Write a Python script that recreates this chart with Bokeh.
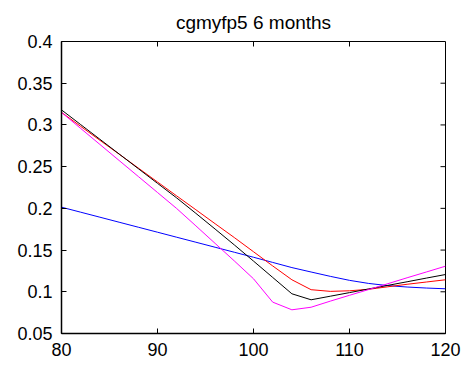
from bokeh.plotting import figure
from bokeh.models import LinearAxis, FixedTicker, Range1d, Title
from bokeh.embed import file_html
from bokeh.resources import INLINE

strike = [80, 82, 84, 86, 88, 90, 92, 94, 96, 98, 100, 102, 104, 106, 108, 110, 112, 114, 116, 118, 120]

black_vals = [0.318, 0.3004, 0.2828, 0.2652, 0.2476, 0.2300, 0.2125, 0.1940, 0.1752, 0.1562, 0.1368,
              0.1172, 0.0976, 0.0904, 0.0947, 0.0990, 0.1034, 0.1077, 0.1120, 0.1164, 0.1207]
red_vals = [0.315, 0.2983, 0.2816, 0.2650, 0.2483, 0.2316, 0.2149, 0.1983, 0.1816, 0.1650, 0.1480,
            0.1310, 0.1144, 0.1025, 0.1005, 0.1012, 0.1030, 0.1060, 0.1090, 0.1117, 0.1144]
blue_vals = [0.2014, 0.1954, 0.1894, 0.1834, 0.1774, 0.1714, 0.1654, 0.1594, 0.1534, 0.1474, 0.1414,
             0.1352, 0.1290, 0.1237, 0.1185, 0.1137, 0.1100, 0.1074, 0.1057, 0.1045, 0.1036]
magenta_vals = [0.315, 0.2958, 0.2766, 0.2574, 0.2382, 0.2190, 0.1998, 0.1790, 0.1580, 0.1370, 0.1156,
                0.0876, 0.0784, 0.0815, 0.0888, 0.0958, 0.1027, 0.1097, 0.1168, 0.1237, 0.1307]

x_ticks = [80, 90, 100, 110, 120]
x_tick_labels = ["80", "90", "100", "110", "120"]
y_ticks = [0.05, 0.1, 0.15, 0.2, 0.25, 0.3, 0.35, 0.4]
y_tick_labels = ["0.05", "0.1", "0.15", "0.2", "0.25", "0.3", "0.35", "0.4"]

X_MIN, X_MAX = 80, 120
Y_MIN, Y_MAX = 0.05, 0.4

FONT = "Liberation Sans"
FS = "18px"

p = figure(width=462, height=366, output_backend="svg", toolbar_location=None,
           x_range=Range1d(X_MIN, X_MAX), y_range=Range1d(Y_MIN, Y_MAX),
           min_border_left=61, min_border_right=17, min_border_top=41, min_border_bottom=33,
           x_axis_location=None, y_axis_location=None)
p.title = Title(text="cgmyfp5 6 months", align="center", text_font=FONT,
                text_font_size="19px", text_font_style="normal", text_color="black",
                standoff=18)
p.grid.visible = False
p.outline_line_color = "black"
p.outline_line_width = 1
p.background_fill_color = "white"
p.border_fill_color = "white"


def make_axis(loc):
    ax = LinearAxis()
    if loc == "left":
        ax.ticker = FixedTicker(ticks=y_ticks)
        ax.major_label_overrides = {t: l for t, l in zip(y_ticks, y_tick_labels)}
    else:
        ax.ticker = FixedTicker(ticks=x_ticks)
        ax.major_label_overrides = {t: l for t, l in zip(x_ticks, x_tick_labels)}
    ax.major_tick_in = 5
    ax.major_tick_out = 0
    ax.minor_tick_line_color = None
    ax.axis_line_color = "black"
    ax.axis_line_width = 1.5
    ax.major_tick_line_color = "black"
    ax.major_label_text_font = FONT
    ax.major_label_text_font_size = FS
    ax.major_label_text_color = "black"
    ax.major_label_standoff = 9
    p.add_layout(ax, loc)
    return ax


make_axis("left")
make_axis("below")

# mirrored inward ticks on top and right edges (half of each dash is clipped by the frame)
p.scatter(x_ticks[1:-1], [Y_MAX] * (len(x_ticks) - 2), marker="dash", angle=1.5707963,
          size=10, line_color="black", line_width=1)
p.scatter([X_MAX] * (len(y_ticks) - 2), y_ticks[1:-1], marker="dash",
          size=10, line_color="black", line_width=1)

p.line(strike, blue_vals, line_color="#0000ff", line_width=1)
p.line(strike, red_vals, line_color="#ff0000", line_width=1)
p.line(strike, black_vals, line_color="#000000", line_width=1)
p.line(strike, magenta_vals, line_color="#ff00ff", line_width=1)

open("out.html", "w").write(file_html(p, INLINE))
